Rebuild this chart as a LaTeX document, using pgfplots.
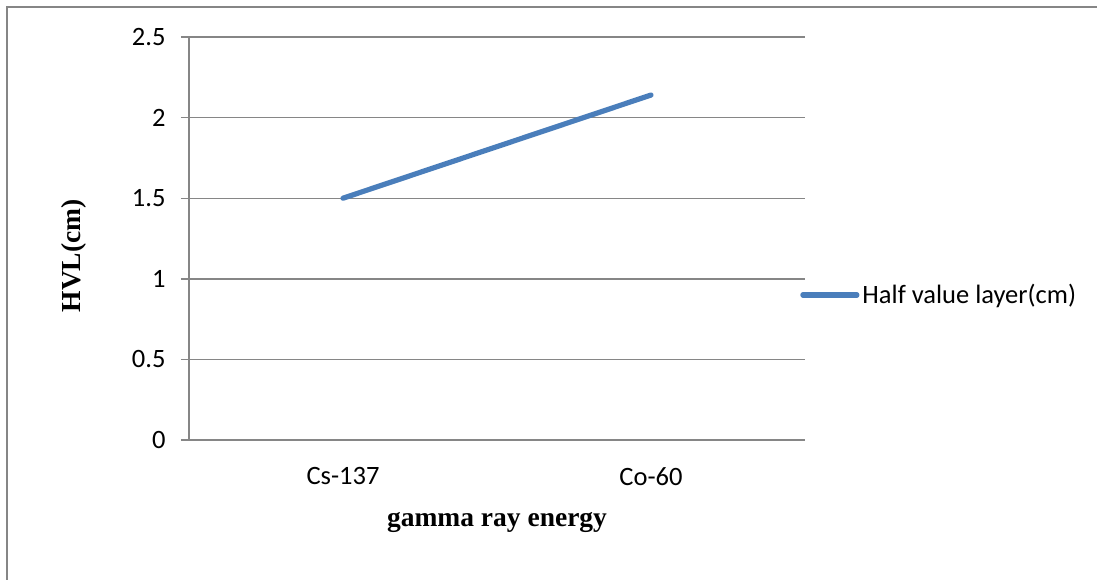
\documentclass[border=0pt]{standalone}
\usepackage{pgfplots}
\pgfplotsset{compat=1.18}
\usepackage{fontspec}
\setmainfont{Carlito}
\newfontfamily\labelserif{Liberation Serif}
\definecolor{seriesblue}{HTML}{4A7EBB}
\definecolor{gridgray}{HTML}{868686}

\begin{document}
\begin{tikzpicture}[x=1pt,y=1pt]
% page area and the chart-area frame (only its left and top edges show)
\useasboundingbox (-189,-139) rectangle (908,440);
\draw[gridgray, line width=1.4pt] (-182,-140) -- (-182,433) -- (909,433);
\begin{axis}[
  at={(0,0)}, anchor=south west,
  scale only axis, width=616pt, height=403pt,
  xmin=-0.5, xmax=1.5, ymin=0, ymax=2.5,
  xtick={0,1}, xticklabels={Cs-137, Co-60},
  ytick={0,0.5,1,1.5,2,2.5},
  axis lines*=left,
  axis line style={gridgray, line width=1.4pt},
  ymajorgrids,
  major grid style={gridgray, line width=1.4pt},
  xtick style={draw=none},
  ytick style={gridgray, line width=1.4pt},
  tick align=outside, major tick length=8pt,
  /pgf/number format/assume math mode=true,
  tick label style={font=\fontsize{26.5}{30}\selectfont},
  yticklabel style={xshift=-12pt},
  xticklabel style={yshift=-16pt},
  xlabel={gamma ray energy},
  ylabel={HVL(cm)},
  label style={font=\labelserif\bfseries\fontsize{27.5}{32}\selectfont},
  xlabel style={at={(axis description cs:0.5,-0.205)}, anchor=center},
  ylabel style={at={(axis description cs:-0.187,0.457)}, anchor=center, rotate=0},
  legend style={at={(axis description cs:0.992,0.36)}, anchor=west,
    draw=none, fill=none, font=\fontsize{26.5}{30}\selectfont,
    inner sep=0pt,
    nodes={inner sep=3pt}},
  legend cell align=left,
  legend image code/.code={\draw[#1, line cap=round] (0pt,0pt) -- (54pt,0pt);},
]
\addplot[seriesblue, line width=5.2pt, line cap=round] coordinates {
  (0, 1.50)
  (1, 2.14)
};
\addlegendentry{Half value layer(cm)}
\end{axis}
\end{tikzpicture}
\end{document}
